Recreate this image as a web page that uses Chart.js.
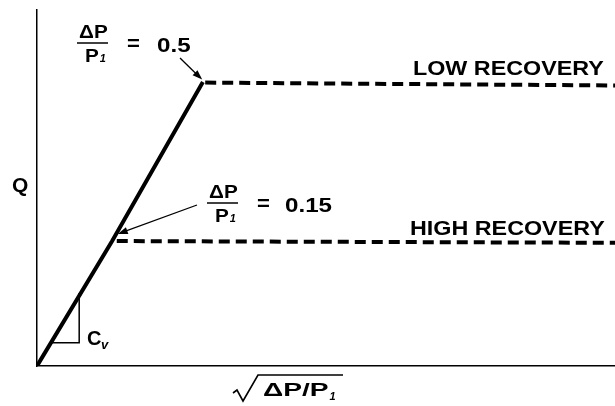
<!DOCTYPE html>
<html>
<head>
<meta charset="utf-8">
<script src="https://cdn.jsdelivr.net/npm/chart.js@4/dist/chart.umd.min.js"></script>
<style>
  html, body { margin: 0; padding: 0; background: #fff; }
  #wrap { width: 615px; height: 406px; position: relative; }
</style>
</head>
<body>
<div id="wrap"><canvas id="chart"></canvas></div>
<script>
// 데이터 (임의 단위: x 0-100, y 0-100)
const solidX = [0, 13.0, 28.7];
const solidY = [0, 35.1, 79.8];
const lowX = [29.1, 100];
const lowY = [79.6, 78.8];
const highX = [13.8, 100];
const highY = [35.1, 34.6];
const slopeX = [2.1, 7.3, 7.3];
const slopeY = [6.5, 6.5, 20.5];
const curveLabels = ['LOW RECOVERY', 'HIGH RECOVERY'];
const ratioValues = ['0.5', '0.15'];
const axisLabelX = 'ΔP/P';
const axisLabelY = 'Q';

const FONT = "'Liberation Sans', Arial, sans-serif";
const pts = (xs, ys) => xs.map((x, i) => ({ x, y: ys[i] }));

// 가로로 늘린 텍스트 (원본 서체가 넓음), 그린 폭 반환
function txt(ctx, s, x, y, font, sx = 1) {
    ctx.save();
    ctx.font = font;
    ctx.textAlign = 'left';
    ctx.textBaseline = 'alphabetic';
    ctx.translate(x, y);
    ctx.scale(sx, 1);
    ctx.fillText(s, 0, 0);
    const w = ctx.measureText(s).width * sx;
    ctx.restore();
    return w;
}

function arrow(ctx, x1, y1, x2, y2) {
    const a = Math.atan2(y2 - y1, x2 - x1);
    ctx.beginPath();
    ctx.moveTo(x1, y1);
    ctx.lineTo(x2 - 6 * Math.cos(a), y2 - 6 * Math.sin(a));
    ctx.lineWidth = 1.3;
    ctx.stroke();
    ctx.beginPath();
    ctx.moveTo(x2, y2);
    ctx.lineTo(x2 - 10 * Math.cos(a) + 3.5 * Math.sin(a), y2 - 10 * Math.sin(a) - 3.5 * Math.cos(a));
    ctx.lineTo(x2 - 10 * Math.cos(a) - 3.5 * Math.sin(a), y2 - 10 * Math.sin(a) + 3.5 * Math.cos(a));
    ctx.closePath();
    ctx.fill();
}

// ΔP/P1 = 값 분수 표기
function ratio(ctx, x, barY, value, eqX, valX) {
    txt(ctx, 'ΔP', x + 2, barY - 5, `bold 18px ${FONT}`, 1.15);
    const pw = txt(ctx, 'P', x + 8, barY + 19, `bold 18px ${FONT}`, 1.15);
    txt(ctx, '1', x + 8 + pw + 1, barY + 19, `italic bold 11px ${FONT}`);
    ctx.beginPath();
    ctx.moveTo(x, barY);
    ctx.lineTo(x + 31, barY);
    ctx.lineWidth = 1.5;
    ctx.stroke();
    txt(ctx, '=', eqX, barY + 7, `bold 21px ${FONT}`, 1.05);
    txt(ctx, value, valX, barY + 9, `bold 21px ${FONT}`, 1.15);
}

const notes = {
    id: 'notes',
    afterDatasetsDraw(chart) {
        const { ctx, scales: { x, y } } = chart;
        ctx.save();
        ctx.fillStyle = '#000';
        ctx.strokeStyle = '#000';

        // 곡선 라벨
        txt(ctx, curveLabels[0], 413, 75, `bold 21px ${FONT}`, 1.11);
        txt(ctx, curveLabels[1], 410, 235, `bold 21px ${FONT}`, 1.11);

        // 비율 표기 + 화살표
        ratio(ctx, 77, 43, ratioValues[0], 127, 157);
        ratio(ctx, 207, 203, ratioValues[1], 257, 285);
        arrow(ctx, 180, 58, x.getPixelForValue(lowX[0]) - 3, y.getPixelForValue(lowY[0]) - 3);
        arrow(ctx, 197, 205, x.getPixelForValue(highX[0]) + 1, y.getPixelForValue(highY[0]) - 7);

        // Q
        txt(ctx, axisLabelY, 12, 192, `bold 21px ${FONT}`);

        // C_v
        txt(ctx, 'C', 87, 345, `bold 20px ${FONT}`);
        txt(ctx, 'v', 101, 349, `italic bold 13px ${FONT}`);

        // x축 라벨: √(ΔP/P1)
        ctx.beginPath();
        ctx.moveTo(233, 393);
        ctx.lineTo(237, 390);
        ctx.lineTo(243, 401);
        ctx.lineTo(258, 375);
        ctx.lineTo(343, 375);
        ctx.lineWidth = 1.6;
        ctx.stroke();
        const w = txt(ctx, axisLabelX, 263, 396, `bold 19px ${FONT}`, 1.48);
        txt(ctx, '1', 263 + w + 1, 400, `italic bold 11px ${FONT}`);
        ctx.restore();
    }
};

const line = (data, width, dash) => ({
    data,
    showLine: true,
    pointRadius: 0,
    borderColor: '#000',
    borderWidth: width,
    borderDash: dash,
    borderCapStyle: 'butt',
    tension: 0
});

new Chart(document.getElementById('chart'), {
    type: 'scatter',
    data: {
        datasets: [
            line(pts(solidX, solidY), 4, []),
            line(pts(lowX, lowY), 4, [11, 6]),
            line(pts(highX, highY), 4, [11, 6]),
            line(pts(slopeX, slopeY), 1.5, [])
        ]
    },
    options: {
        responsive: true,
        maintainAspectRatio: false,
        animation: false,
        layout: { padding: { left: 37, top: 10, right: 0, bottom: 40 } },
        scales: {
            x: {
                type: 'linear', min: 0, max: 100,
                ticks: { display: false },
                grid: { display: false, drawTicks: false },
                border: { display: true, color: '#000', width: 1.5 },
                afterFit: s => { s.height = 0; }
            },
            y: {
                type: 'linear', min: 0, max: 100,
                ticks: { display: false },
                grid: { display: false, drawTicks: false },
                border: { display: true, color: '#000', width: 1.5 },
                afterFit: s => { s.width = 0; }
            }
        },
        plugins: { legend: { display: false }, tooltip: { enabled: false } }
    },
    plugins: [notes]
});
</script>
</body>
</html>
